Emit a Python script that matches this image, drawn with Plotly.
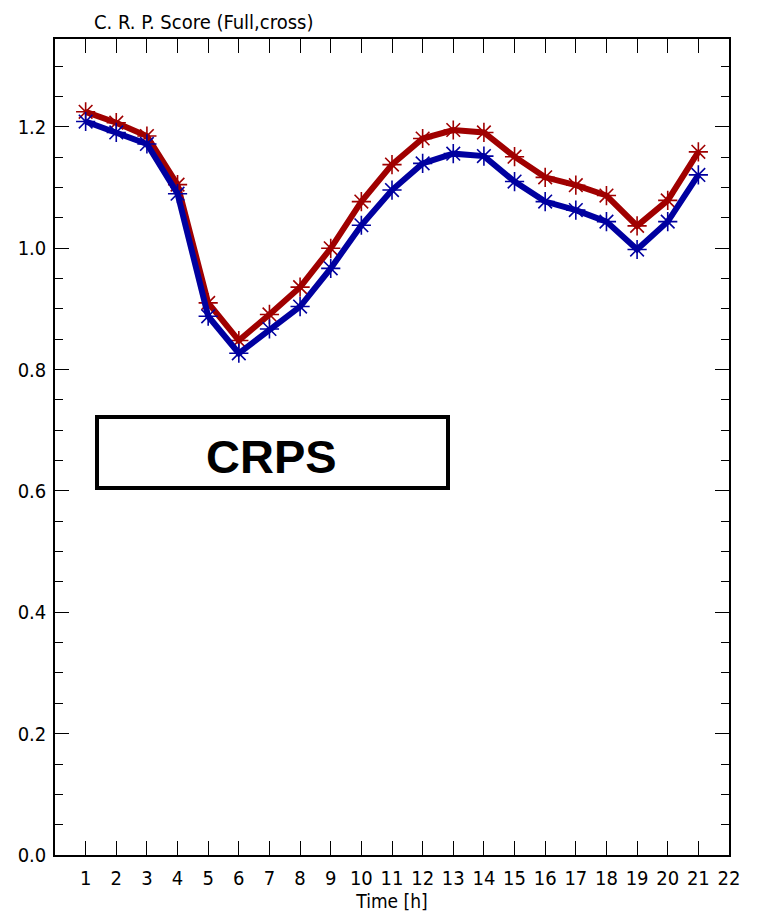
import plotly.graph_objects as go

# Forecast lead time (hours)
hours = list(range(1, 22))

# CRPS per lead time for the two ensemble configurations
crps_red = [1.225, 1.207, 1.185, 1.105, 0.910, 0.848, 0.891, 0.936, 1.000, 1.077,
            1.138, 1.181, 1.195, 1.191, 1.151, 1.117, 1.104, 1.087, 1.037, 1.079, 1.159]
crps_blue = [1.209, 1.191, 1.172, 1.090, 0.888, 0.827, 0.867, 0.904, 0.967, 1.038,
             1.096, 1.140, 1.156, 1.152, 1.110, 1.077, 1.063, 1.044, 0.998, 1.044, 1.121]

x_ticks = list(range(1, 23))
y_ticks = [0.0, 0.2, 0.4, 0.6, 0.8, 1.0, 1.2]
y_tick_text = ["0.0", "0.2", "0.4", "0.6", "0.8", "1.0", "1.2"]

label_font = "DejaVu Sans Condensed, Liberation Sans Narrow, Arial Narrow, sans-serif"

fig = go.Figure()

for vals, line_col, mark_col in [(crps_red, "#a00000", "#c01010"),
                                 (crps_blue, "#0000a0", "#1515c8")]:
    fig.add_trace(go.Scatter(
        x=hours, y=vals, mode="lines+markers",
        line=dict(color=line_col, width=6),
        marker=dict(symbol="asterisk-open", size=16,
                    line=dict(color=mark_col, width=1.6)),
        showlegend=False,
    ))

axis_common = dict(
    showgrid=False, zeroline=False, showline=True, linecolor="black",
    linewidth=1.5, mirror="ticks", ticks="inside", tickcolor="black",
    tickwidth=1.3, tickfont=dict(family=label_font, size=20, color="black"),
)

fig.update_xaxes(
    range=[0, 22], tickmode="array", tickvals=x_ticks,
    ticklen=14, ticklabelstandoff=4,
    title=dict(text="Time [h]", font=dict(family=label_font, size=19, color="black"),
               standoff=6),
    **axis_common,
)
fig.update_yaxes(
    range=[0, 1.345], tickmode="array", tickvals=y_ticks, ticktext=y_tick_text,
    ticklen=14, ticklabelstandoff=3,
    minor=dict(dtick=0.05, ticklen=8, tickcolor="black", tickwidth=1.2, ticks="inside"),
    **axis_common,
)

# Title sits above the left part of the frame
fig.add_annotation(
    text="C. R. P. Score (Full,cross)", xref="paper", yref="paper",
    x=(203 - 55) / 674, y=1.0, xanchor="center", yanchor="bottom", yshift=3,
    showarrow=False,
    font=dict(family=label_font, size=20, color="black"),
)

# Boxed label inside the plot
fig.add_shape(
    type="rect", xref="paper", yref="paper",
    x0=(97 - 55) / 674, x1=(448 - 55) / 674,
    y0=(855 - 488) / 816, y1=(855 - 417) / 816,
    line=dict(color="black", width=4), fillcolor="rgba(0,0,0,0)",
)
fig.add_annotation(
    text="<b>CRPS</b>", xref="paper", yref="paper",
    x=(271 - 55) / 674, y=(855 - 457) / 816, xanchor="center", yanchor="middle",
    showarrow=False,
    font=dict(family="Liberation Sans, Arial, sans-serif", size=47, color="black"),
)

fig.update_layout(
    width=762, height=923,
    margin=dict(l=55, r=33, t=39, b=68),
    paper_bgcolor="white", plot_bgcolor="white",
)

fig.write_html("out.html")
